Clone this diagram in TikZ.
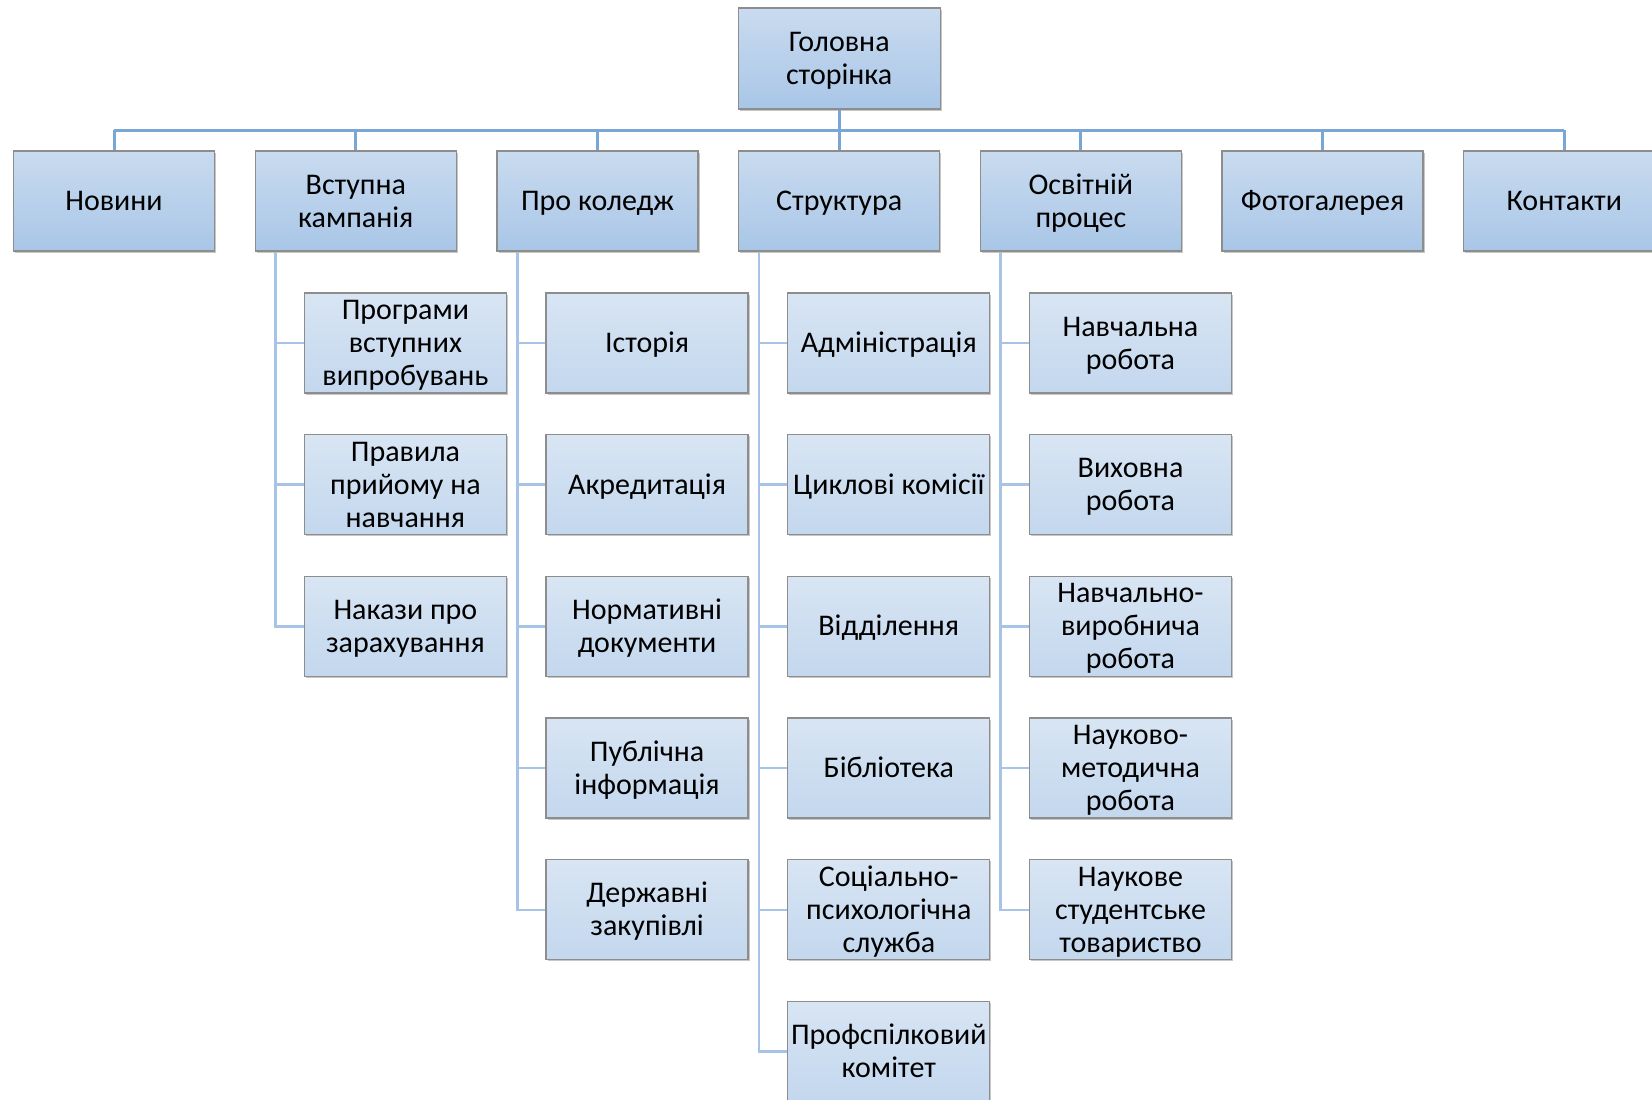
\documentclass[tikz,border=0pt]{standalone}
\usepackage{fontspec}
\setmainfont{Carlito}
\usetikzlibrary{shadows}
\definecolor{busline}{HTML}{7AA6D6}
\definecolor{subline}{HTML}{A7C3E5}
\definecolor{boxborder}{HTML}{8D8D8D}
\definecolor{mainTop}{HTML}{C9DBEF}
\definecolor{mainBot}{HTML}{A9C6E7}
\definecolor{subTop}{HTML}{D8E5F3}
\definecolor{subBot}{HTML}{C3D7EE}
% line strut: every line is 33pt tall, caps centred in it
\newcommand\ls{\rule[-7pt]{0pt}{33pt}}
\begin{document}
\begin{tikzpicture}[x=1pt,y=-1pt,
  boxbase/.style={draw=boxborder, line width=1.3pt, inner sep=0pt, align=center,
    font=\fontsize{30}{33}\selectfont,
    general shadow={fill=black!22, shadow xshift=1.5pt, shadow yshift=-1.5pt}},
  mainbox/.style={boxbase, top color=mainTop, bottom color=mainBot, minimum width=201pt, minimum height=100pt},
  subbox/.style={boxbase, top color=subTop, bottom color=subBot, minimum width=202pt, minimum height=100pt},
  bus/.style={draw=busline, line width=3pt},
  sub/.style={draw=subline, line width=2.6pt}]
\useasboundingbox (0,0) rectangle (1652,1100);
\clip (0,0) rectangle (1652,1100);

% head and top level
\node[mainbox, minimum width=202pt, minimum height=101pt] (head) at (839.2,58.5) {\ls Головна\\\ls сторінка};
\node[mainbox] (n0) at (114,201) {\ls Новини};
\node[mainbox] (n1) at (355.8,201) {\ls Вступна\\\ls кампанія};
\node[mainbox] (n2) at (597.5,201) {\ls Про коледж};
\node[mainbox] (n3) at (839.2,201) {\ls Структура};
\node[mainbox] (n4) at (1080.9,201) {\ls Освітній\\\ls процес};
\node[mainbox] (n5) at (1322.6,201) {\ls Фотогалерея};
\node[mainbox] (n6) at (1564.3,201) {\ls Контакти};

% children of n1
\node[subbox] (c1a) at (405.4,343) {\ls Програми\\\ls вступних\\\ls випробувань};
\node[subbox] (c1b) at (405.4,484.7) {\ls Правила\\\ls прийому на\\\ls навчання};
\node[subbox] (c1c) at (405.4,626.4) {\ls Накази про\\\ls зарахування};

% children of n2
\node[subbox] (c2a) at (647.1,343) {\ls Історія};
\node[subbox] (c2b) at (647.1,484.7) {\ls Акредитація};
\node[subbox] (c2c) at (647.1,626.4) {\ls Нормативні\\\ls документи};
\node[subbox] (c2d) at (647.1,768.1) {\ls Публічна\\\ls інформація};
\node[subbox] (c2e) at (647.1,909.8) {\ls Державні\\\ls закупівлі};

% children of n3
\node[subbox] (c3a) at (888.8,343) {\ls Адміністрація};
\node[subbox] (c3b) at (888.8,484.7) {\ls Циклові комісії};
\node[subbox] (c3c) at (888.8,626.4) {\ls Відділення};
\node[subbox] (c3d) at (888.8,768.1) {\ls Бібліотека};
\node[subbox] (c3e) at (888.8,909.8) {\ls Соціально-\\\ls психологічна\\\ls служба};
\node[subbox] (c3f) at (888.8,1051.5) {\ls Профспілковий\\\ls комітет};

% children of n4
\node[subbox] (c4a) at (1130.5,343) {\ls Навчальна\\\ls робота};
\node[subbox] (c4b) at (1130.5,484.7) {\ls Виховна\\\ls робота};
\node[subbox] (c4c) at (1130.5,626.4) {\ls Навчально-\\\ls виробнича\\\ls робота};
\node[subbox] (c4d) at (1130.5,768.1) {\ls Науково-\\\ls методична\\\ls робота};
\node[subbox] (c4e) at (1130.5,909.8) {\ls Наукове\\\ls студентське\\\ls товариство};

% bus
\coordinate (busL) at (114,130);
\coordinate (busR) at (1564.3,130);
\draw[bus] (busL) -- (busR);
\draw[bus] (head.south) -- (head.south |- busL);
\foreach \n in {n0,n1,n2,n3,n4,n5,n6}
  \draw[bus] (\n.north) -- (\n.north |- busL);

% sub connectors
\foreach \p/\last/\kids in {n1/c1c/{c1a,c1b,c1c}, n2/c2e/{c2a,c2b,c2c,c2d,c2e}, n3/c3f/{c3a,c3b,c3c,c3d,c3e,c3f}, n4/c4e/{c4a,c4b,c4c,c4d,c4e}}{
  \coordinate (v\p) at ([xshift=21pt]\p.south west);
  \draw[sub] (v\p) |- (\last.west);
  \foreach \k in \kids
    \draw[sub] (\k.west) -- (\k.west -| v\p);
}
\end{tikzpicture}
\end{document}
